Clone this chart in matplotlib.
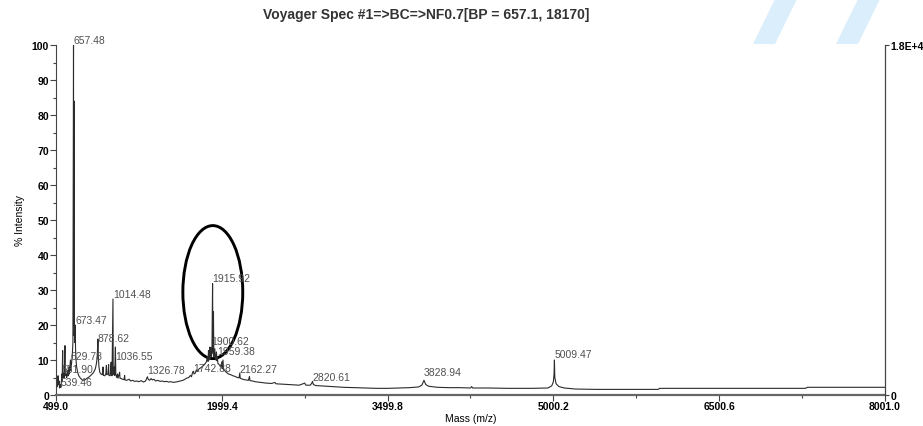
import numpy as np
import matplotlib
matplotlib.use("Agg")
import matplotlib.pyplot as plt
from matplotlib.patches import Ellipse, Polygon

plt.rcParams['font.family'] = ['Liberation Sans Narrow', 'Liberation Sans', 'DejaVu Sans']

# spectrum trace (m/z, % intensity), split by region
low_mz = [499, 504, 508, 512, 517, 521, 526, 531, 536, 539.5, 543, 548, 551.9, 555,
          559, 562, 568, 574, 580, 583, 590, 596, 603, 608, 615, 620, 626, 629.8,
          633, 640, 646, 652, 657.5, 659, 661, 663, 666, 669, 673.5, 676, 680, 686,
          695, 705, 720, 740, 760, 780, 800, 820, 840, 855, 865, 872, 878.6, 882,
          888, 895, 905, 918, 925, 928, 940, 950, 955, 958, 970, 975, 978, 990, 998,
          1001, 1006, 1014.5, 1017, 1024, 1027, 1030, 1036.6, 1040, 1048, 1055,
          1060, 1075, 1078, 1090, 1100]
low_int = [0, 2.0, 4.0, 2.5, 5.5, 3.0, 4.0, 2.0, 2.4, 3.0, 2.2, 4.0, 6.0, 4.0,
           12.7, 5.0, 6.0, 5.0, 14.1, 5.5, 6.0, 5.0, 7.0, 5.5, 8.0, 6.0, 8.5, 10.0,
           7.0, 9.0, 11.0, 15.0, 100.0, 20.0, 84.0, 17.0, 18.0, 15.0, 20.0, 13.0, 10.0, 8.0,
           6.5, 5.5, 4.8, 4.2, 4.3, 4.8, 5.2, 5.8, 6.5, 7.5, 9.0, 11.0, 16.0, 11.0,
           8.0, 6.5, 6.0, 5.8, 8.0, 5.6, 5.5, 6.0, 8.5, 5.8, 6.0, 8.7, 5.6, 5.5, 9.4,
           6.0, 5.5, 27.4, 5.8, 6.0, 8.0, 5.6, 13.7, 6.0, 5.0, 6.0,
           4.8, 6.5, 4.8, 4.7, 4.5]

mid_mz = [1115, 1120, 1123, 1140, 1160, 1175, 1190, 1210, 1230, 1250, 1270, 1290,
          1310, 1320, 1326.8, 1333, 1345, 1360, 1370, 1385, 1400, 1420, 1440, 1460,
          1480, 1500, 1520, 1540, 1560, 1580, 1600, 1620, 1640, 1660, 1680, 1700,
          1715, 1725, 1735, 1742.9, 1748, 1760, 1770, 1780, 1795, 1810, 1825, 1840,
          1850, 1860, 1870, 1875, 1879, 1884, 1891, 1895, 1900.6, 1905, 1910, 1915.9,
          1919, 1924, 1927, 1936, 1940, 1945, 1951, 1955, 1959.4, 1964, 1972, 1980,
          1990, 2000, 2004, 2010, 2015, 2025, 2040, 2060, 2080, 2100, 2120, 2140,
          2155, 2162.3, 2166, 2180, 2200, 2220, 2240, 2250, 2254, 2280, 2300]
mid_int = [4.4, 5.6, 4.3, 4.2, 4.5, 4.0, 4.2, 3.9, 4.0, 3.8, 4.1, 3.7,
           4.0, 4.8, 5.2, 4.5, 4.2, 4.7, 4.3, 4.5, 4.0, 4.2, 3.9, 4.0,
           3.8, 3.9, 3.7, 3.8, 3.6, 3.7, 3.8, 4.0, 4.1, 4.4, 4.8, 5.0,
           5.6, 5.2, 6.5, 6.8, 6.0, 6.3, 7.2, 6.8, 7.5, 7.8, 8.2, 8.6,
           9.0, 9.5, 11.0, 9.6, 12.7, 10.0, 13.7, 10.5, 13.5, 11.0, 12.0, 31.8,
           12.0, 23.8, 11.0, 13.2, 10.5, 10.0, 12.3, 9.8, 11.0, 9.0, 8.8, 8.5,
           8.0, 9.5, 7.5, 10.0, 7.2, 7.0, 6.5, 6.0, 5.8, 5.5, 5.3, 5.0,
           4.9, 6.3, 4.8, 4.6, 4.4, 4.3, 4.2, 5.3, 4.1, 4.0, 3.8]

high_mz = [2350, 2400, 2450, 2480, 2490, 2550, 2600, 2650, 2700, 2750, 2760, 2800,
           2812, 2820.6, 2828, 2850, 2900, 3000, 3100, 3200, 3300, 3400, 3500, 3600,
           3700, 3780, 3810, 3828.9, 3845, 3870, 3950, 4050, 4150, 4250, 4260, 4270,
           4400, 4600, 4800, 4950, 4985, 5000, 5006, 5009.5, 5013, 5025, 5050, 5100,
           5200, 5400, 5800, 5950, 5960, 6500, 7280, 7300, 8001]
high_int = [3.6, 3.4, 3.3, 3.6, 3.2, 3.1, 3.0, 2.9, 2.8, 3.4, 2.8, 2.8,
            3.3, 3.9, 3.0, 2.7, 2.6, 2.4, 2.2, 2.1, 2.0, 1.9, 1.9, 2.0,
            2.1, 2.3, 2.8, 4.2, 3.0, 2.5, 2.2, 2.1, 2.1, 2.0, 2.4, 2.0,
            2.0, 1.9, 1.9, 2.0, 2.6, 3.8, 6.0, 10.0, 5.0, 3.2, 2.4, 2.0,
            1.7, 1.6, 1.6, 1.6, 1.9, 1.9, 1.9, 2.2, 2.2]

# labelled peaks
label_mz = [539.46, 551.90, 629.78, 657.48, 673.47, 878.62, 1014.48, 1036.55,
            1326.78, 1742.88, 1900.62, 1915.92, 1959.38, 2162.27, 2820.61,
            3828.94, 5009.47]
label_int = [2.3, 6.0, 9.7, 100.0, 20.0, 14.9, 27.4, 9.7,
             5.7, 6.3, 14.0, 32.0, 11.1, 6.0, 3.7,
             5.1, 10.3]

x_ticks = [499.0, 1999.4, 3499.8, 5000.2, 6500.6, 8001.0]
base_peak = 18170

mz = np.concatenate([low_mz, mid_mz, high_mz])
inten = np.concatenate([low_int, mid_int, high_int])

fig = plt.figure(figsize=(9.23, 4.27), dpi=100)
ax = fig.add_axes([56 / 923, 31 / 427, 829 / 923, 350 / 427])

ax.plot(mz, inten, color='#2b2b2b', lw=0.8)

for m, h in zip(label_mz, label_int):
    ax.text(m, h, f"{m:.2f}", ha='left', va='bottom', fontsize=7.5,
            color='#505050', family=['Liberation Sans', 'DejaVu Sans'])

# circled region
ax.add_patch(Ellipse((1918, 29.4), 542, 38, fill=False, lw=2.1, color='black'))

ax.set_xlim(x_ticks[0], x_ticks[-1])
ax.set_ylim(0, 100)
ax.set_xticks(x_ticks)
ax.set_xticklabels([f"{t:.1f}" for t in x_ticks])
ax.set_xticks([(a + b) / 2 for a, b in zip(x_ticks[:-1], x_ticks[1:])], minor=True)
ax.set_yticks(np.arange(0, 101, 10))
ax.set_yticks(np.arange(5, 100, 10), minor=True)
ax.tick_params(which='major', length=4, width=0.8, labelsize=7.5, pad=1, color='#444')
ax.tick_params(axis='x', which='major', pad=0)
ax.tick_params(which='minor', length=2.5, width=0.8, color='#444')
for lab in ax.get_xticklabels() + ax.get_yticklabels():
    lab.set_fontweight('bold')

ax.spines['top'].set_visible(False)
ax.spines['left'].set_color('#444')
ax.spines['bottom'].set_color('#666')
ax.spines['bottom'].set_linewidth(1.6)
ax.spines['right'].set_color('#444')

ax2 = ax.twinx()
ax2.set_ylim(0, 100)
ax2.set_yticks([0, 100])
ax2.set_yticklabels(['0', f"{base_peak / 1e4:.1f}E+4"])
ax2.tick_params(length=3, width=0.8, labelsize=7.5, pad=1, color='#444')
for lab in ax2.get_yticklabels():
    lab.set_fontweight('bold')
for s in ['top', 'left', 'bottom']:
    ax2.spines[s].set_visible(False)
ax2.spines['right'].set_color('#444')

ax.set_xlabel("Mass (m/z)", fontsize=7.5, labelpad=2)
ax.set_ylabel("% Intensity", fontsize=7.5, labelpad=5)
fig.text(426 / 923, 1 - 15 / 427, "Voyager Spec #1=>BC=>NF0.7[BP = 657.1, 18170]",
         ha='center', va='center', fontsize=10, fontweight='bold', color='#333')

# faint watermark in the top right corner
for px in [(775, 753), (858, 836)]:
    fig.patches.append(Polygon(
        [(px[0] / 923, 1.0), ((px[0] + 22) / 923, 1.0),
         ((px[1] + 22) / 923, 1 - 45 / 427), (px[1] / 923, 1 - 45 / 427)],
        closed=True, transform=fig.transFigure, facecolor='#dbeefb',
        edgecolor='none', zorder=-1))

fig.savefig("out.png", dpi=100)
